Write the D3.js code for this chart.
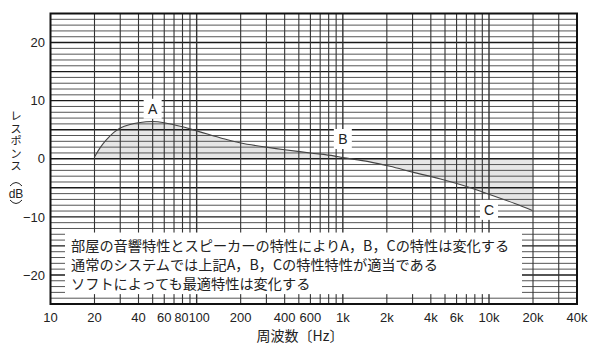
<!DOCTYPE html>
<html><head><meta charset="utf-8">
<script src="https://cdn.jsdelivr.net/npm/d3@7"></script>
<style>
html,body{margin:0;padding:0;background:#fff;}
svg{display:block;}
text{font-family:"Liberation Sans",Arial,sans-serif;fill:#222;}
.jp{font-family:"Noto Sans CJK JP",sans-serif;}
</style></head><body>
<svg id="chart" width="600" height="348"></svg>
<script>
// ---- data ----
const freqs    = [20, 22, 24, 27, 30, 35, 40, 50, 60, 80, 100, 120, 150, 200, 300, 400, 600, 866, 1000, 1500, 2100, 3000, 4660, 7470, 10200, 15000, 19800];
const response = [0.3, 2.0, 3.2, 4.5, 5.3, 5.9, 6.2, 6.4, 6.2, 5.5, 4.8, 4.2, 3.5, 2.7, 2.0, 1.55, 1.0, 0.5, 0.2, -0.5, -1.3, -2.3, -3.5, -5.0, -6.2, -7.7, -8.9];
const xTickLabels = [[10,"10"],[20,"20"],[40,"40"],[60,"60"],[80,"80"],[100,"100"],[200,"200"],[400,"400"],[600,"600"],[1000,"1k"],[2000,"2k"],[4000,"4k"],[6000,"6k"],[10000,"10k"],[20000,"20k"],[40000,"40k"]];
const yTickLabels = [[20,"20"],[10,"10"],[0,"0"],[-10,"−10"],[-20,"−20"]];
const pointLabels = [["A",50,8.6],["B",1000,3.4],["C",10000,-8.8]];
const noteLines = ["部屋の音響特性とスピーカーの特性によりA，B，Cの特性は変化する",
                   "通常のシステムでは上記A，B，Cの特性特性が適当である",
                   "ソフトによっても最適特性は変化する"];
const yTitle = "レスポンス";
const yUnit = "dB";
const xTitle = "周波数〔Hz〕";

// ---- layout ----
const L = 50.5, R = 577, T = 13.5, B = 304;
const svg = d3.select("#chart");
const x = d3.scaleLog().domain([10, 40000]).range([L, R]);
const y = d3.scaleLinear().domain([-25, 25]).range([B, T]);
const pts = freqs.map((f,i)=>[f,response[i]]);
const crv = d3.curveCatmullRom.alpha(0.5);

// fill
svg.append("path").datum(pts)
  .attr("d", d3.area().x(d=>x(d[0])).y0(y(0)).y1(d=>y(d[1])).curve(crv))
  .attr("fill","#e6e6e6");

// grid
const g = svg.append("g");
const hVals = d3.range(-24, 25);
g.selectAll("line.h").data(hVals).join("line")
  .attr("x1", L).attr("x2", R).attr("y1", d=>y(d)).attr("y2", d=>y(d))
  .attr("stroke", d=> d%5===0 ? "#1a1a1a" : "#555")
  .attr("stroke-width", d=> d%5===0 ? 1.4 : 1);
const vVals = [];
[10,100,1000,10000].forEach(dec=>{ for(let k=1;k<=9;k++){ const v=dec*k; if(v>10 && v<40000) vVals.push(v);} });
const vUniq = Array.from(new Set(vVals));
g.selectAll("line.v").data(vUniq).join("line")
  .attr("x1", d=>x(d)).attr("x2", d=>x(d)).attr("y1", T).attr("y2", B)
  .attr("stroke", "#333").attr("stroke-width", d=> [100,1000,10000].includes(d)?1.4:1.1);

// curve
svg.append("path").datum(pts)
  .attr("d", d3.line().x(d=>x(d[0])).y(d=>y(d[1])).curve(crv))
  .attr("fill","none").attr("stroke","#444").attr("stroke-width",1.1);

// border
svg.append("rect").attr("x",L).attr("y",T).attr("width",R-L).attr("height",B-T)
  .attr("fill","none").attr("stroke","#111").attr("stroke-width",2);

// note box
const boxTop = y(-12.7), boxBot = y(-23.3);
svg.append("rect").attr("x",65).attr("y",boxTop).attr("width",522-65).attr("height",boxBot-boxTop).attr("fill","#fff");
svg.append("g").selectAll("text").data(noteLines).join("text")
  .attr("class","jp").attr("x",71).attr("y",(d,i)=>boxTop+18+i*19)
  .attr("font-size",14.2).attr("fill","#222").text(d=>d);

// point labels
const pl = svg.append("g").selectAll("g").data(pointLabels).join("g")
  .attr("transform", d=>`translate(${x(d[1])},${y(d[2])})`);
pl.append("rect").attr("x",-9).attr("y",-10).attr("width",18).attr("height",20).attr("fill","#fff");
pl.append("text").attr("text-anchor","middle").attr("dy","0.36em").attr("font-size",14).text(d=>d[0]);

// axes labels (crowded 80/100 nudged apart slightly, as in the original)
const nudge = v => v===80 ? -1 : (v===100 ? 2.5 : 0);
svg.append("g").selectAll("text").data(xTickLabels).join("text")
  .attr("x", d=>x(d[0])+nudge(d[0])).attr("y", 322).attr("text-anchor","middle")
  .attr("font-size", d=> (d[0]===80||d[0]===100)?12.5:13).text(d=>d[1]);
svg.append("g").selectAll("text").data(yTickLabels).join("text")
  .attr("x", 45).attr("y", d=>y(d[0])).attr("dy","0.36em").attr("text-anchor","end").attr("font-size",13).text(d=>d[1]);

// y title (vertical writing)
svg.append("text").attr("class","jp").attr("x",16).attr("y",110)
  .style("writing-mode","vertical-rl").attr("font-size",11.5).attr("letter-spacing",1)
  .text(yTitle);
// unit with vertical brackets
const ux = 16;
svg.append("path").attr("d", `M${ux-6},186 Q${ux},179 ${ux+6},186`).attr("fill","none").attr("stroke","#222").attr("stroke-width",1);
svg.append("text").attr("x",ux).attr("y",193.5).attr("dy","0.36em").attr("text-anchor","middle").attr("font-size",12).text(yUnit);
svg.append("path").attr("d", `M${ux-6},200 Q${ux},207 ${ux+6},200`).attr("fill","none").attr("stroke","#222").attr("stroke-width",1);

// x title
svg.append("text").attr("class","jp").attr("x",300).attr("y",341).attr("text-anchor","middle").attr("font-size",14).text(xTitle);
</script></body></html>
